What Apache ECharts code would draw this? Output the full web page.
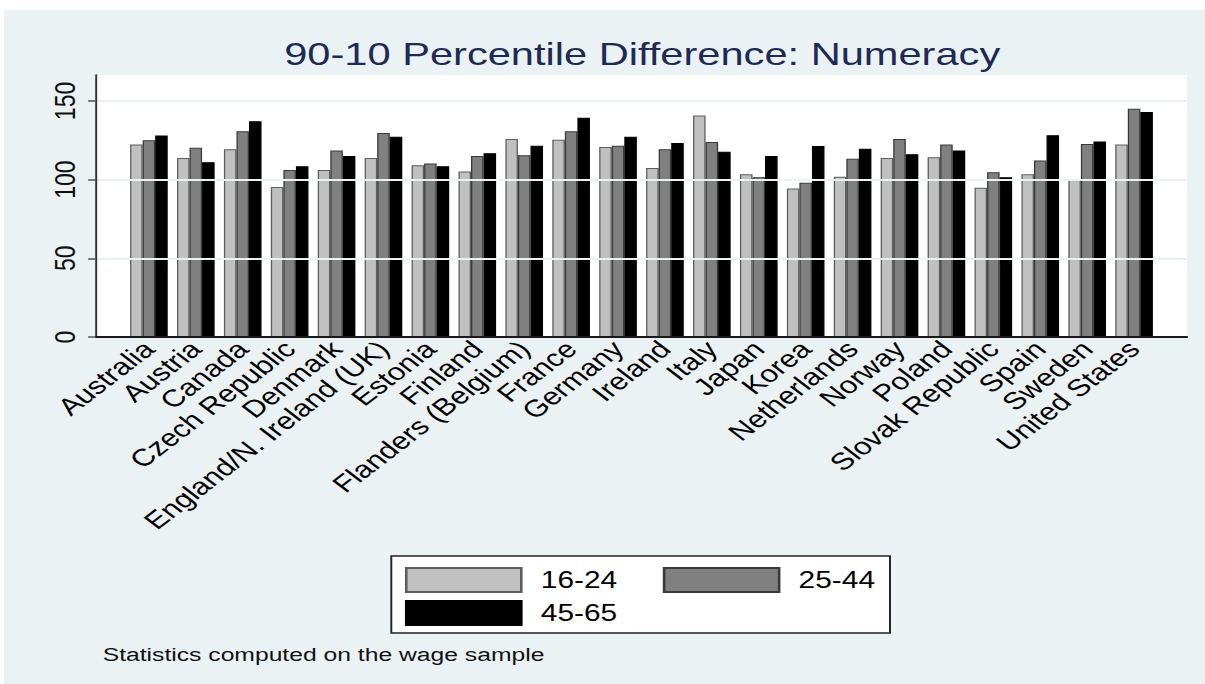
<!DOCTYPE html>
<html>
<head>
<meta charset="utf-8">
<script src="https://cdn.jsdelivr.net/npm/echarts@6/dist/echarts.min.js"></script>
<style>
html,body{margin:0;padding:0;background:#fff;}
#wrap{width:1205px;height:684px;overflow:hidden;background:#fff;position:relative;}
#c{width:927px;height:684px;transform:scaleX(1.3);transform-origin:0 0;}
</style>
</head>
<body>
<div id="wrap"><div id="c"></div></div>
<script>
const categories = ['Australia','Austria','Canada','Czech Republic','Denmark','England/N. Ireland (UK)','Estonia','Finland','Flanders (Belgium)','France','Germany','Ireland','Italy','Japan','Korea','Netherlands','Norway','Poland','Slovak Republic','Spain','Sweden','United States'];
const age16_24 = [122.3,113.8,119.3,95.4,106.2,113.8,109.1,105.1,125.9,125.4,120.8,107.4,140.7,103.4,94.3,101.9,113.8,114.2,94.9,103.4,100.0,122.3];
const age25_44 = [125.0,120.2,130.8,106.2,118.5,129.7,110.2,115.1,115.5,130.8,121.6,119.3,124.0,101.5,98.1,113.2,125.9,122.3,104.7,112.1,122.7,145.1];
const age45_65 = [128.0,111.0,137.1,108.5,115.1,127.3,108.5,116.8,121.6,139.4,127.3,123.3,117.8,115.1,121.4,119.7,116.1,118.5,101.5,128.2,124.2,143.0];
const yTicks = [0,50,100,150];
const seriesNames = ['16-24','25-44','45-65'];
const titleText = '90-10 Percentile Difference: Numeracy';
const noteText = 'Statistics computed on the wage sample';

const FONT = '"Liberation Sans", Arial, Helvetica, sans-serif';
const chart = echarts.init(document.getElementById('c'), null, {renderer: 'svg'});
const YMAX = 166.5;

const option = {
  animation: false,
  backgroundColor: '#ffffff',
  textStyle: {fontFamily: FONT},
  graphic: [
    {type: 'rect', z: -10, silent: true, shape: {x: 3, y: 10, width: 930, height: 680}, style: {fill: '#eaf2f3'}},
    {type: 'rect', z: -5, silent: true, shape: {x: 73.8, y: 75, width: 839.2, height: 262}, style: {fill: '#ffffff'}},
    {type: 'rect', z: 1, silent: true, shape: {x: 301, y: 556, width: 383.6, height: 77}, style: {fill: '#ffffff', stroke: '#222', lineWidth: 1.5}}
  ],
  title: [
    {text: titleText, left: 494, top: 38, textAlign: 'center', padding: 0,
     textStyle: {fontFamily: FONT, fontSize: 32, fontWeight: 'normal', color: '#1e2a56'}},
    {text: noteText, left: 79, top: 645, padding: 0,
     textStyle: {fontFamily: FONT, fontSize: 19, fontWeight: 'normal', color: '#111'}}
  ],
  legend: [
    {data: ['16-24','25-44'], left: 311.5, top: 567, orient: 'horizontal', padding: 0,
     itemWidth: 88.5, itemHeight: 24, itemGap: 35, icon: 'rect', z: 5,
     textStyle: {fontFamily: FONT, fontSize: 23, color: '#000', padding: [0,0,0,10]}},
    {data: ['45-65'], left: 311.5, top: 600, orient: 'horizontal', padding: 0,
     itemWidth: 88.5, itemHeight: 24, itemGap: 35, icon: 'rect', z: 5,
     textStyle: {fontFamily: FONT, fontSize: 23, color: '#000', padding: [0,0,0,10]}}
  ],
  grid: [
    {left: 73.8, top: 75, width: 839.2, height: 262},
    {left: 96.5, top: 75, width: 793.9, height: 262}
  ],
  xAxis: [
    {type: 'category', gridIndex: 0, data: categories, z: 4,
     axisLine: {show: true, lineStyle: {color: '#1a1a1a', width: 2}},
     axisTick: {show: false}, axisLabel: {show: false}, splitLine: {show: false}},
    {type: 'category', gridIndex: 1, data: categories,
     axisLine: {show: false}, axisTick: {show: false},
     axisLabel: {interval: 0, rotate: 45, fontSize: 24, margin: 8, color: '#000', fontFamily: FONT}}
  ],
  yAxis: [
    {type: 'value', gridIndex: 0, min: 0, max: YMAX, interval: 50, z: 4,
     axisLine: {show: true, lineStyle: {color: '#333', width: 1.5}},
     axisTick: {show: true, length: 6, customValues: yTicks, lineStyle: {color: '#555', width: 1.5}},
     axisLabel: {customValues: yTicks, rotate: 90, fontSize: 23, margin: 12, color: '#111', fontFamily: FONT},
     splitLine: {show: true, lineStyle: {color: '#eaf2f3', width: 2}}},
    {type: 'value', gridIndex: 1, min: 0, max: YMAX, show: false, splitLine: {show: false}}
  ],
  series: [
    {name: seriesNames[0], type: 'bar', xAxisIndex: 1, yAxisIndex: 1, data: age16_24,
     barWidth: 9.65, barGap: '0%',
     itemStyle: {color: '#c0c0c0', borderColor: '#5e5e5e', borderWidth: 1}},
    {name: seriesNames[1], type: 'bar', xAxisIndex: 1, yAxisIndex: 1, data: age25_44,
     barWidth: 9.65, barGap: '0%',
     itemStyle: {color: '#808080', borderColor: '#3a3a3a', borderWidth: 1}},
    {name: seriesNames[2], type: 'bar', xAxisIndex: 1, yAxisIndex: 1, data: age45_65,
     barWidth: 9.65, barGap: '0%',
     itemStyle: {color: '#000000', borderColor: '#000000', borderWidth: 1}}
  ]
};
chart.setOption(option);
</script>
</body>
</html>
